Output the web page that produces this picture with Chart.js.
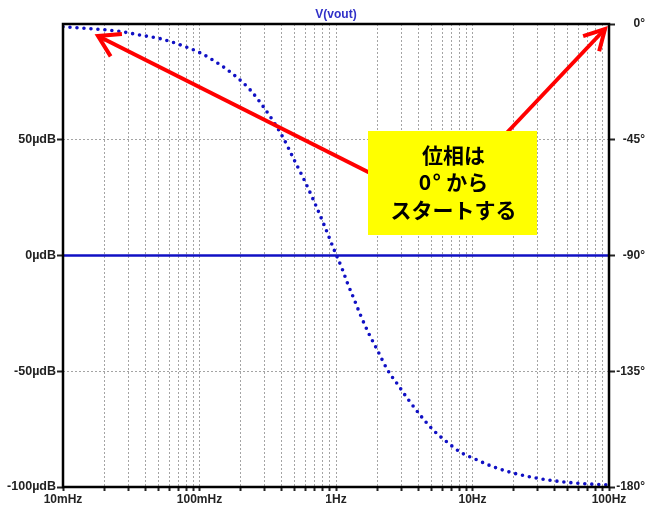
<!DOCTYPE html>
<html>
<head>
<meta charset="utf-8">
<script src="https://cdn.jsdelivr.net/npm/chart.js@4/dist/chart.umd.min.js"></script>
<style>
  html, body { margin: 0; padding: 0; background: #ffffff; }
  canvas { display: block; }
</style>
</head>
<body>
<canvas id="bode" width="649" height="510"></canvas>
<script>
// Frequency sweep (Hz) and phase of V(vout) (degrees)
const phaseFreq = [0.01, 0.0187, 0.0262, 0.0367, 0.0515, 0.0722, 0.101, 0.135, 0.177, 0.235,
                   0.293, 0.347, 0.411, 0.487, 0.576, 0.682, 0.809, 0.99, 1.11, 1.21,
                   1.34, 1.51, 1.73, 2.01, 2.38, 2.87, 3.34, 4.16, 5.18, 6.57,
                   8.18, 10.2, 14.3, 20.0, 30.0, 44.3, 69.9, 100];
const phaseDeg = [-1.1, -2.1, -2.9, -4.3, -5.7, -8.1, -11.2, -15.1, -19.6, -25.6,
                  -32.1, -37.8, -44.3, -52.2, -59.9, -68.3, -77.5, -89.0, -95.2, -100.6,
                  -106.3, -113.1, -120.1, -126.8, -134.4, -140.6, -145.6, -152.2, -158.0, -162.7,
                  -166.5, -168.9, -172.2, -174.6, -176.6, -177.9, -178.8, -179.2];

// Magnitude of V(vout) (µdB): flat across the sweep
const magFreq = [0.01, 100];
const magUdB = [0, 0];

// Axis ticks
const freqDecades = [0.01, 0.1, 1, 10, 100];
const freqDecadeLabels = ['10mHz', '100mHz', '1Hz', '10Hz', '100Hz'];
const magTicks = [-100, -50, 0, 50, 100];
const magTickLabels = ['-100µdB', '-50µdB', '0µdB', '50µdB', ''];
const phaseTicks = [-180, -135, -90, -45, 0];
const phaseTickLabels = ['-180°', '-135°', '-90°', '-45°', '0°'];

// Callout text
const calloutLines = ['位相は', '0°から', 'スタートする'];

const traceBlue = '#1010c4';
const gridGray = '#a4a4a4';
const labelFont = { family: '"Liberation Sans", Arial, sans-serif', size: 12, weight: 'bold' };

// every 1..9 multiple of each decade for the grid
const freqGridTicks = [];
for (let d = 0; d < freqDecades.length - 1; d++) {
  for (let m = 1; m < 10; m++) freqGridTicks.push(+(freqDecades[d] * m).toPrecision(3));
}
freqGridTicks.push(freqDecades[freqDecades.length - 1]);

function labelFor(values, labels, v) {
  const i = values.findIndex(t => Math.abs(t - v) < 1e-9 * Math.max(1, Math.abs(t)));
  return i >= 0 ? labels[i] : '';
}

const framePlugin = {
  id: 'frame',
  afterDatasetsDraw(chart) {
    const { ctx, chartArea: a } = chart;
    ctx.save();
    ctx.strokeStyle = '#000';
    ctx.lineWidth = 2.5;
    ctx.strokeRect(a.left, a.top, a.right - a.left, a.bottom - a.top);
    // trace name above the plot
    ctx.fillStyle = '#3030c8';
    ctx.font = 'bold 12px "Liberation Sans", Arial, sans-serif';
    ctx.textAlign = 'center';
    ctx.textBaseline = 'middle';
    ctx.fillText('V(vout)', (a.left + a.right) / 2, 15);
    ctx.restore();
  }
};

function arrow(ctx, x0, y0, x1, y1, wingLen, wingAng) {
  ctx.beginPath();
  ctx.moveTo(x0, y0);
  ctx.lineTo(x1, y1);
  ctx.stroke();
  const ang = Math.atan2(y0 - y1, x0 - x1);
  ctx.beginPath();
  ctx.moveTo(x1 + wingLen * Math.cos(ang - wingAng), y1 + wingLen * Math.sin(ang - wingAng));
  ctx.lineTo(x1, y1);
  ctx.lineTo(x1 + wingLen * Math.cos(ang + wingAng), y1 + wingLen * Math.sin(ang + wingAng));
  ctx.stroke();
}

// centre a line of text; the degree sign gets a wider cell as in Japanese text
function drawCalloutLine(ctx, text, cx, cy, size) {
  const chars = Array.from(text);
  const adv = chars.map(ch => (ch === '°' ? size * 0.72 : ctx.measureText(ch).width));
  const total = adv.reduce((s, w) => s + w, 0);
  let x = cx - total / 2;
  ctx.textAlign = 'left';
  chars.forEach((ch, i) => {
    const w = ctx.measureText(ch).width;
    ctx.fillText(ch, ch === '°' ? x + (adv[i] - w) / 2 - 2 : x, cy);
    x += adv[i];
  });
}

const calloutPlugin = {
  id: 'callout',
  afterDraw(chart) {
    const { ctx } = chart;
    ctx.save();
    ctx.strokeStyle = '#ff0000';
    ctx.lineWidth = 4;
    ctx.lineCap = 'butt';
    ctx.lineJoin = 'miter';
    arrow(ctx, 380, 178, 98, 36, 24, 0.55);
    arrow(ctx, 500, 140, 605, 29, 23, 0.5);
    // yellow note box
    const bx = 368, by = 131, bw = 169, bh = 104;
    ctx.fillStyle = '#ffff00';
    ctx.fillRect(bx, by, bw, bh);
    ctx.fillStyle = '#000';
    ctx.font = 'bold 21px "Noto Sans CJK JP", sans-serif';
    ctx.textBaseline = 'middle';
    calloutLines.forEach((t, i) => drawCalloutLine(ctx, t, bx + bw / 2 + 1, 155 + i * 27.5, 21));
    ctx.restore();
  }
};

new Chart(document.getElementById('bode'), {
  type: 'line',
  data: {
    datasets: [
      {
        label: 'phase',
        data: phaseFreq.map((f, i) => ({ x: f, y: phaseDeg[i] })),
        yAxisID: 'yPhase',
        borderColor: traceBlue,
        borderWidth: 3.6,
        borderDash: [0, 7],
        borderCapStyle: 'round',
        pointRadius: 0,
        cubicInterpolationMode: 'monotone',
        fill: false
      },
      {
        label: 'mag',
        data: magFreq.map((f, i) => ({ x: f, y: magUdB[i] })),
        yAxisID: 'yMag',
        borderColor: traceBlue,
        borderWidth: 2.5,
        pointRadius: 0,
        fill: false
      }
    ]
  },
  options: {
    responsive: false,
    animation: false,
    devicePixelRatio: 1,
    layout: { padding: { top: 24, right: 4, left: 0, bottom: 0 } },
    plugins: { legend: { display: false }, tooltip: { enabled: false }, title: { display: false } },
    scales: {
      x: {
        type: 'logarithmic',
        min: 0.01,
        max: 100,
        afterBuildTicks(scale) { scale.ticks = freqGridTicks.map(v => ({ value: v })); },
        afterFit(scale) { scale.height = 23; },
        ticks: {
          autoSkip: false,
          maxRotation: 0,
          padding: 1,
          color: '#222',
          font: labelFont,
          callback: v => labelFor(freqDecades, freqDecadeLabels, v)
        },
        grid: {
          color: gridGray,
          lineWidth: 1,
          tickLength: 4,
          tickColor: '#222',
          tickWidth: 2,
          tickBorderDash: []
        },
        border: { display: false, dash: [2, 2] }
      },
      yMag: {
        type: 'linear',
        position: 'left',
        min: -100,
        max: 100,
        afterBuildTicks(scale) { scale.ticks = magTicks.map(v => ({ value: v })); },
        afterFit(scale) { scale.width = 63; },
        ticks: {
          padding: 1,
          color: '#222',
          font: { family: labelFont.family, size: 12.5, weight: 'bold' },
          callback: v => labelFor(magTicks, magTickLabels, v)
        },
        grid: {
          color: gridGray,
          lineWidth: 1,
          tickLength: 6,
          tickColor: ctx => (ctx.tick && ctx.tick.value === 100 ? 'rgba(0,0,0,0)' : '#222'),
          tickWidth: 2,
          tickBorderDash: []
        },
        border: { display: false, dash: [2, 2] }
      },
      yPhase: {
        type: 'linear',
        position: 'right',
        min: -180,
        max: 0,
        afterBuildTicks(scale) { scale.ticks = phaseTicks.map(v => ({ value: v })); },
        afterFit(scale) { scale.width = 36; },
        ticks: {
          padding: 2,
          crossAlign: 'far',
          color: '#222',
          font: labelFont,
          callback: v => labelFor(phaseTicks, phaseTickLabels, v)
        },
        grid: {
          drawOnChartArea: false,
          tickLength: 6,
          tickColor: '#222',
          tickWidth: 2
        },
        border: { display: false }
      }
    }
  },
  plugins: [framePlugin, calloutPlugin]
});
</script>
</body>
</html>
